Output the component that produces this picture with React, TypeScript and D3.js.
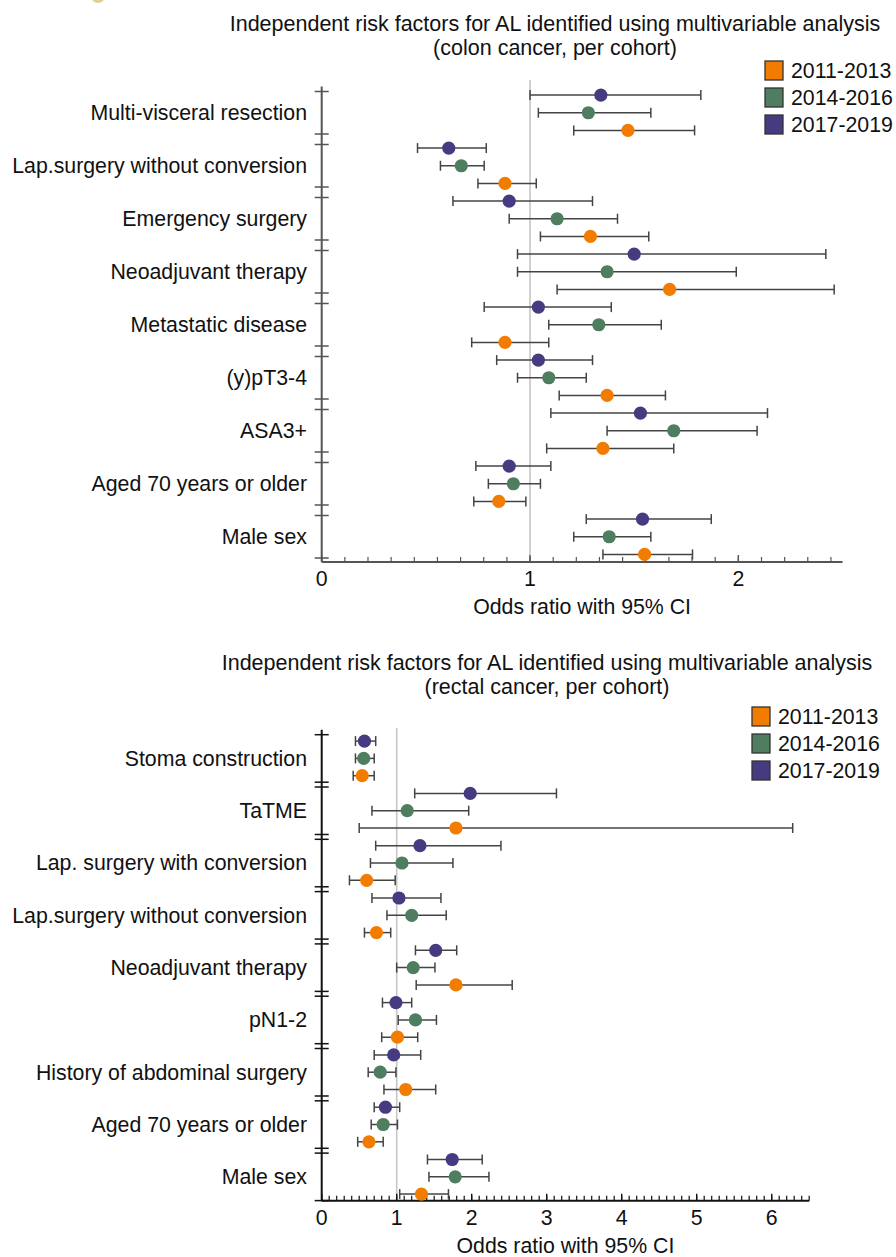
import React from "react"
import * as d3 from "d3"

// cohorts, legend order
const cohorts = ["2011-2013", "2014-2016", "2017-2019"]
const cohortColors = ["#f27c00", "#4f7d5f", "#463a80"]
// rows inside each factor go newest first
const rowOrder = ["2017-2019", "2014-2016", "2011-2013"]

// colon cancer
const colonFactors = [
  "Multi-visceral resection",
  "Lap.surgery without conversion",
  "Emergency surgery",
  "Neoadjuvant therapy",
  "Metastatic disease",
  "(y)pT3-4",
  "ASA3+",
  "Aged 70 years or older",
  "Male sex",
]
const colonOr2011 = [1.47, 0.88, 1.29, 1.67, 0.88, 1.37, 1.35, 0.85, 1.55]
const colonLo2011 = [1.21, 0.75, 1.05, 1.13, 0.72, 1.14, 1.08, 0.73, 1.35]
const colonHi2011 = [1.79, 1.03, 1.57, 2.46, 1.09, 1.65, 1.69, 0.98, 1.78]
const colonOr2014 = [1.28, 0.67, 1.13, 1.37, 1.33, 1.09, 1.69, 0.92, 1.38]
const colonLo2014 = [1.04, 0.57, 0.9, 0.94, 1.09, 0.94, 1.37, 0.8, 1.21]
const colonHi2014 = [1.58, 0.78, 1.42, 1.99, 1.63, 1.27, 2.09, 1.05, 1.58]
const colonOr2017 = [1.34, 0.61, 0.9, 1.5, 1.04, 1.04, 1.53, 0.9, 1.54]
const colonLo2017 = [1.0, 0.46, 0.63, 0.94, 0.78, 0.84, 1.1, 0.74, 1.27]
const colonHi2017 = [1.82, 0.79, 1.3, 2.42, 1.39, 1.3, 2.14, 1.1, 1.87]

// rectal cancer
const rectalFactors = [
  "Stoma construction",
  "TaTME",
  "Lap. surgery with conversion",
  "Lap.surgery without conversion",
  "Neoadjuvant therapy",
  "pN1-2",
  "History of abdominal surgery",
  "Aged 70 years or older",
  "Male sex",
]
const rectalOr2011 = [0.54, 1.79, 0.6, 0.73, 1.79, 1.01, 1.12, 0.63, 1.33]
const rectalLo2011 = [0.42, 0.5, 0.37, 0.57, 1.26, 0.8, 0.83, 0.48, 1.04]
const rectalHi2011 = [0.7, 6.28, 0.98, 0.92, 2.54, 1.28, 1.52, 0.82, 1.69]
const rectalOr2014 = [0.56, 1.14, 1.07, 1.2, 1.22, 1.25, 0.78, 0.82, 1.78]
const rectalLo2014 = [0.45, 0.67, 0.65, 0.87, 1.0, 1.02, 0.62, 0.66, 1.43]
const rectalHi2014 = [0.7, 1.96, 1.75, 1.66, 1.51, 1.53, 0.99, 1.01, 2.23]
const rectalOr2017 = [0.57, 1.98, 1.31, 1.03, 1.52, 0.99, 0.96, 0.85, 1.74]
const rectalLo2017 = [0.45, 1.24, 0.72, 0.67, 1.25, 0.81, 0.7, 0.7, 1.41]
const rectalHi2017 = [0.72, 3.13, 2.39, 1.59, 1.8, 1.2, 1.32, 1.04, 2.14]

const colonTicks = [0, 1, 2]
const rectalTicks = [0, 1, 2, 3, 4, 5, 6]

const FONT = "'Liberation Sans', Arial, Helvetica, sans-serif"
const FS = 21.3

type Est = { factor: string; cohort: string; or: number; lo: number; hi: number }

function buildRows(factors: string[], series: [number[], number[], number[]][]): Est[] {
  const rows: Est[] = []
  factors.forEach((f, i) => {
    cohorts.forEach((c, k) => {
      const [or, lo, hi] = series[k]
      rows.push({ factor: f, cohort: c, or: or[i], lo: lo[i], hi: hi[i] })
    })
  })
  return rows
}

const colonRows = buildRows(colonFactors, [
  [colonOr2011, colonLo2011, colonHi2011],
  [colonOr2014, colonLo2014, colonHi2014],
  [colonOr2017, colonLo2017, colonHi2017],
])
const rectalRows = buildRows(rectalFactors, [
  [rectalOr2011, rectalLo2011, rectalHi2011],
  [rectalOr2014, rectalLo2014, rectalHi2014],
  [rectalOr2017, rectalLo2017, rectalHi2017],
])

interface PanelProps {
  title: string[]
  titleX: number
  titleY: number
  factors: string[]
  rows: Est[]
  xMax: number
  xRange: [number, number]
  ticks: number[]
  minorStep: number
  yRange: [number, number]
  bandPad: number
  inner: [number, number]
  axisY: number
  axisColor: string
  refTop: number
  legendX: number
  legendY: number
}

function ForestPanel(p: PanelProps) {
  const x = d3.scaleLinear().domain([0, p.xMax]).range(p.xRange)
  const y = d3.scaleBand<string>().domain(p.factors).range(p.yRange).paddingInner(p.bandPad).paddingOuter(0)
  const yIn = d3.scalePoint<string>().domain(rowOrder).range(p.inner)
  const color = d3.scaleOrdinal<string, string>().domain(cohorts).range(cohortColors)
  const minor = d3.range(0, p.xMax + 1e-6, p.minorStep)
  const x0 = x(0)
  const firstTop = y(p.factors[0])!

  return (
    <g>
      {p.title.map((t, i) => (
        <text key={t} x={p.titleX} y={p.titleY + i * 24} textAnchor="middle" fontSize={21.5} fill="#111">
          {t}
        </text>
      ))}

      {/* reference line at OR = 1 */}
      <line x1={x(1)} x2={x(1)} y1={p.refTop} y2={p.axisY} stroke="#c6c6c6" strokeWidth={1.6} />

      {/* y axis with band ticks */}
      <line x1={x0} x2={x0} y1={firstTop - 5} y2={p.axisY} stroke={p.axisColor} strokeWidth={2} />
      {p.factors.map((f) => {
        const top = y(f)!
        const bot = top + y.bandwidth()
        return (
          <g key={f}>
            <line x1={x0 - 7} x2={x0 + 7} y1={top} y2={top} stroke={p.axisColor} strokeWidth={1.5} />
            <line x1={x0 - 7} x2={x0 + 7} y1={bot} y2={bot} stroke={p.axisColor} strokeWidth={1.5} />
            <text x={307} y={top + yIn("2014-2016")!} dy="0.35em" textAnchor="end" fontSize={FS} fill="#111">
              {f}
            </text>
          </g>
        )
      })}

      {/* x axis */}
      <line x1={x0} x2={x(p.xMax)} y1={p.axisY} y2={p.axisY} stroke={p.axisColor} strokeWidth={2} />
      {minor.map((v, i) => (
        <line key={i} x1={x(v)} x2={x(v)} y1={p.axisY} y2={p.axisY - 5} stroke={p.axisColor} strokeWidth={1.2} />
      ))}
      {p.ticks.map((v) => (
        <g key={v}>
          <line x1={x(v)} x2={x(v)} y1={p.axisY} y2={p.axisY - 7} stroke={p.axisColor} strokeWidth={1.4} />
          <text x={x(v)} y={p.axisY + 24} textAnchor="middle" fontSize={FS} fill="#111">
            {v}
          </text>
        </g>
      ))}
      <text x={(p.xRange[0] + p.xRange[1]) / 2} y={p.axisY + 52} textAnchor="middle" fontSize={FS} fill="#111">
        Odds ratio with 95% CI
      </text>

      {/* estimates */}
      {p.rows.map((r) => {
        const cy = y(r.factor)! + yIn(r.cohort)!
        return (
          <g key={r.factor + r.cohort}>
            <line x1={x(r.lo)} x2={x(r.hi)} y1={cy} y2={cy} stroke="#444" strokeWidth={1.5} />
            <line x1={x(r.lo)} x2={x(r.lo)} y1={cy - 5} y2={cy + 5} stroke="#444" strokeWidth={1.5} />
            <line x1={x(r.hi)} x2={x(r.hi)} y1={cy - 5} y2={cy + 5} stroke="#444" strokeWidth={1.5} />
            <circle cx={x(r.or)} cy={cy} r={6.6} fill={color(r.cohort)} />
          </g>
        )
      })}

      {/* legend */}
      {cohorts.map((c, i) => (
        <g key={c} transform={`translate(${p.legendX},${p.legendY + i * 27})`}>
          <rect x={0} y={0} width={18} height={19} fill={color(c)} stroke="#333" strokeWidth={1.3} />
          <text x={26} y={17} fontSize={FS} fill="#111">
            {c}
          </text>
        </g>
      ))}
    </g>
  )
}

export default function App() {
  return (
    <svg
      width={896}
      height={1257}
      style={{ position: "absolute", left: 0, top: 0, background: "#fff", fontFamily: FONT }}
    >
      <circle cx={98} cy={-4} r={7} fill="#d8c27a" opacity={0.8} />
      <ForestPanel
        title={["Independent risk factors for AL identified using multivariable analysis", "(colon cancer, per cohort)"]}
        titleX={555}
        titleY={31}
        factors={colonFactors}
        rows={colonRows}
        xMax={2.5}
        xRange={[321.7, 842.5]}
        ticks={colonTicks}
        minorStep={1 / 9}
        yRange={[91.5, 558]}
        bandPad={0.198}
        inner={[3.6, 38.9]}
        axisY={562}
        axisColor="#555"
        refTop={80}
        legendX={765}
        legendY={61}
      />
      <ForestPanel
        title={["Independent risk factors for AL identified using multivariable analysis", "(rectal cancer, per cohort)"]}
        titleX={547}
        titleY={670}
        factors={rectalFactors}
        rows={rectalRows}
        xMax={6.5}
        xRange={[321.7, 809.2]}
        ticks={rectalTicks}
        minorStep={0.1}
        yRange={[734.7, 1200.6]}
        bandPad={0.092}
        inner={[6.4, 41]}
        axisY={1200.7}
        axisColor="#111"
        refTop={728}
        legendX={752}
        legendY={707}
      />
    </svg>
  )
}
